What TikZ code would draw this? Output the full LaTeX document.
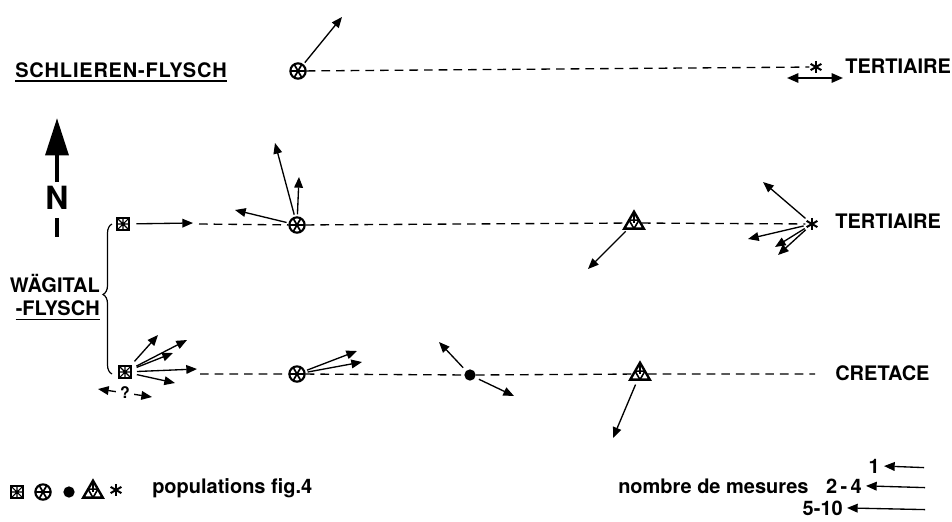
\documentclass[tikz,border=0pt]{standalone}
\usepackage{fontspec}
\setmainfont{TeX Gyre Heros}
\usetikzlibrary{arrows.meta,shapes.geometric,calc,decorations.pathreplacing}
\begin{document}
\begin{tikzpicture}[x=0.75pt,y=-0.75pt,
  txt/.style={font=\bfseries\fontsize{15}{18}\selectfont, inner sep=0pt},
  arr/.style={line width=1pt, -{Triangle[length=8pt,width=6.5pt]}, shorten <=1.5pt},
  darr/.style={line width=1.4pt, {Triangle[length=8.5pt,width=7pt]}-{Triangle[length=8.5pt,width=7pt]}},
  dsh/.style={line width=1pt, dash pattern=on 6.5pt off 4.5pt},
  uline/.style={line width=1.1pt},
  sq/.style={draw, line width=1.5pt, minimum size=8.5pt, inner sep=0pt,
    path picture={\draw[line width=0.8pt]
      (path picture bounding box.south west) -- (path picture bounding box.north east)
      (path picture bounding box.north west) -- (path picture bounding box.south east)
      (path picture bounding box.north) -- (path picture bounding box.south)
      (path picture bounding box.west) -- (path picture bounding box.east);}},
  whl/.style={circle, draw, line width=1.6pt, minimum size=11.5pt, inner sep=0pt,
    path picture={\foreach \a in {0,60,120}
      \draw[line width=1.3pt] ([shift={(\a:6pt)}]path picture bounding box.center) -- ([shift={(\a+180:6pt)}]path picture bounding box.center);}},
  tri/.style={regular polygon, regular polygon sides=3, draw, line width=1.8pt, minimum size=17pt, inner sep=0pt,
    path picture={\draw[line width=1.2pt]
      ($(path picture bounding box.south west)!0.5!(path picture bounding box.north)$) --
      ($(path picture bounding box.south east)!0.5!(path picture bounding box.north)$) --
      (path picture bounding box.south) -- cycle;
      \draw[line width=1.2pt] ($(path picture bounding box.south)!0.333!(path picture bounding box.north)$) -- (path picture bounding box.north);}},
  ast/.style={circle, minimum size=9.5pt, inner sep=0pt,
    path picture={\foreach \a in {90,30,150}
      \draw[line width=1.5pt] ([shift={(\a:4.75pt)}]path picture bounding box.center) -- ([shift={(\a+180:4.75pt)}]path picture bounding box.center);}},
  dot/.style={circle, fill=black, minimum size=8.5pt, inner sep=0pt},
  brc/.style={line width=0.9pt, decorate, decoration={brace, amplitude=6.75pt, aspect=0.53}},
  narr/.style={line width=3.2pt, -{Triangle[length=28pt,width=17pt]}, shorten <=3pt}
]
\useasboundingbox (0,0) rectangle (952,521);
\fill[white] (0,0) rectangle (952,521);

% ---- texts
\node[txt, anchor=base west] (schl) at (15,77) {\addfontfeatures{LetterSpace=4}SCHLIEREN-FLYSCH};
\draw[uline] ([yshift=-3pt]schl.base west) -- ([yshift=-3pt]schl.base east);
\node[txt, anchor=base west] (tert0) at (845,73) {TERTIAIRE};
\node[txt, anchor=base west] (tert1) at (835,228) {TERTIAIRE};
\node[txt, anchor=base west] (cret) at (835,380) {CRETACE};
\node[txt, anchor=base east] (wag) at (100,292) {WÄGITAL};
\node[txt, anchor=base east] (fly) at (100,315) {-FLYSCH};
\draw[uline] ([yshift=-3.5pt]fly.base west) -- ([yshift=-3.5pt]fly.base east);

% ---- north arrow
\node[font=\bfseries\fontsize{24}{28}\selectfont, inner sep=0pt] (N) at (57,198) {N};
\coordinate (ntip) at (57,118);
\draw[narr] (N.north) -- (ntip);
\coordinate (nbar) at (57,237);
\draw[line width=3.2pt] ([yshift=-6pt]N.south) -- (nbar);

% ---- brace
\coordinate (bb) at (112,374);
\coordinate (bt) at (112,224);
\draw[brc] (bb) -- (bt);

% ---- top row
\node[whl] (c0) at (298,71) {};
\node[ast] (a0) at (816,67) {};
\draw[dsh] (c0) -- (a0);
\coordinate (c0t) at (342,17);
\draw[arr] (c0) -- (c0t);
\coordinate (da1) at (787,78);
\coordinate (da2) at (843,78);
\draw[darr] (da1) -- (da2);

% ---- middle row
\node[sq] (s1) at (123,224) {};
\coordinate (s1t) at (193,223);
\draw[arr, shorten <=5pt] (s1) -- (s1t);
\coordinate (m0) at (199,224);
\node[whl] (c1) at (297,225) {};
\node[tri] (t1) at (634,223) {};
\node[ast] (a1) at (812,224) {};
\draw[dsh] (m0) -- (c1) -- (t1) -- (a1);
\coordinate (c1a) at (235,210);
\coordinate (c1b) at (299,177);
\coordinate (c1c) at (275,143);
\draw[arr] (c1) -- (c1a);
\draw[arr] (c1) -- (c1b);
\draw[arr] (c1) -- (c1c);
\coordinate (t1a) at (588,269);
\draw[arr] (t1) -- (t1a);
\coordinate (a1a) at (763,182);
\coordinate (a1b) at (748,239);
\coordinate (a1c) at (775,247);
\coordinate (a1d) at (778,255);
\draw[arr] (a1) -- (a1a);
\draw[arr] (a1) -- (a1b);
\draw[arr] (a1) -- (a1c);
\draw[arr] (a1) -- (a1d);

% ---- bottom row
\node[sq] (s2) at (125,372) {};
\coordinate (s2a) at (158,335);
\coordinate (s2b) at (187,340);
\coordinate (s2c) at (173,353);
\coordinate (s2d) at (197,369);
\coordinate (s2e) at (175,383);
\foreach \t in {s2a,s2b,s2c,s2d,s2e} \draw[arr, shorten <=4pt] (s2) -- (\t);
\node[font=\bfseries\fontsize{12}{14}\selectfont, inner sep=1.5pt] (q) at (125,393) {?};
\coordinate (qL) at (98,389);
\coordinate (qR) at (152,397);
\draw[arr] (q) -- (qL);
\draw[arr] (q) -- (qR);
\coordinate (b0) at (200,374);
\node[whl] (c2) at (297,374) {};
\node[dot] (d2) at (470,375) {};
\node[tri] (t2) at (640,374) {};
\coordinate (b1) at (815,374);
\draw[dsh] (b0) -- (c2) -- (d2) -- (t2) -- (b1);
\coordinate (c2a) at (357,351);
\coordinate (c2b) at (362,362);
\draw[arr] (c2) -- (c2a);
\draw[arr] (c2) -- (c2b);
\coordinate (d2a) at (439,342);
\coordinate (d2b) at (514,396);
\draw[arr, shorten <=3pt] (d2) -- (d2a);
\draw[arr, shorten <=3pt] (d2) -- (d2b);
\coordinate (t2a) at (613,438);
\draw[arr, shorten <=3pt] (t2) -- (t2a);

% ---- legend
\node[sq] (ls) at (17,492) {};
\node[whl] (lc) at (43,492) {};
\node[dot] (ld) at (69,492) {};
\node[tri] (lt) at (93,492) {};
\node[ast] (la) at (116,490) {};
\node[txt, anchor=base west] (pop) at (152,493) {populations fig.4};
\node[txt, anchor=base west] (nom) at (618,493) {nombre de mesures};
\node[txt, anchor=base east] (n1) at (880,473) {1};
\node[txt, anchor=base east] (n2) at (862,493) {2\,-\,4};
\node[txt, anchor=base east] (n3) at (843,515) {5-10};
\coordinate (e1) at (924,467.6);
\coordinate (e2) at (925,487.6);
\coordinate (e3) at (925,509.6);
\draw[arr, shorten >=3pt, shorten <=0pt] (e1) -- (n1.east);
\draw[arr, shorten >=3pt, shorten <=0pt] (e2) -- (n2.east);
\draw[arr, shorten >=3pt, shorten <=0pt] (e3) -- (n3.east);
\end{tikzpicture}
\end{document}
